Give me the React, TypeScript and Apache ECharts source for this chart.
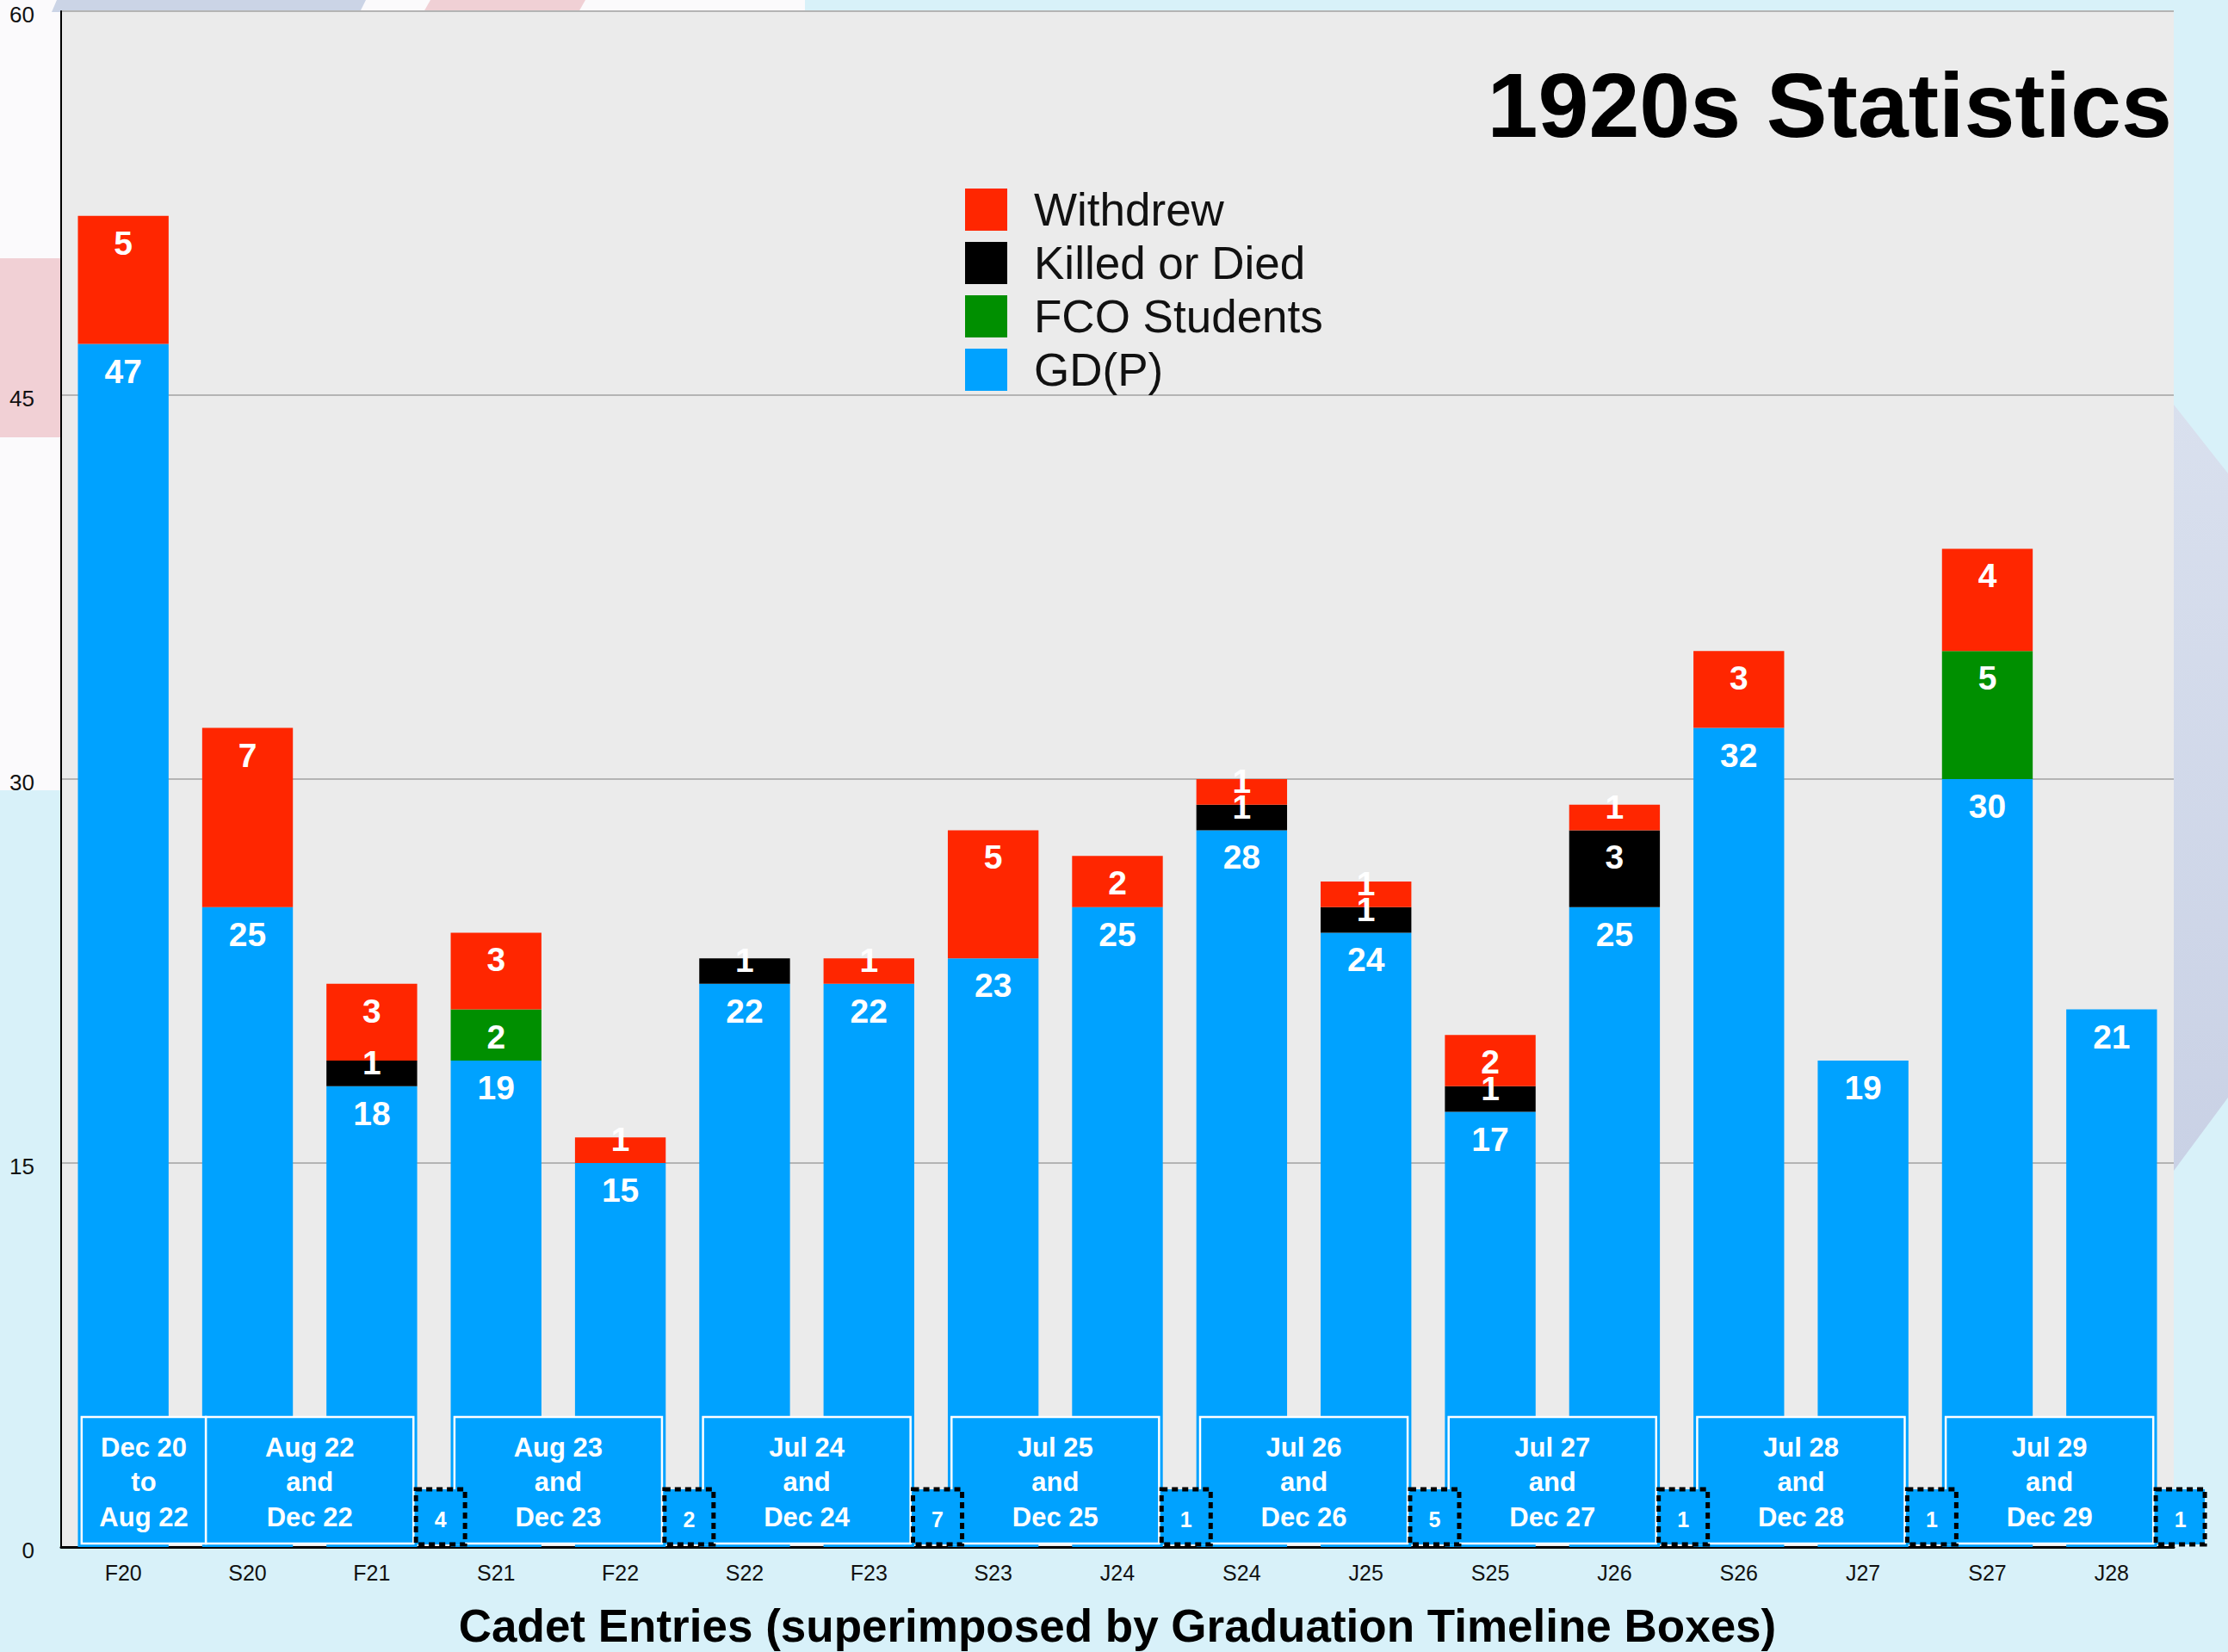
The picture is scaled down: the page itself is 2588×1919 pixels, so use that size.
import React, { useEffect, useRef } from "react";
import * as echarts from "echarts";

const FONT = '"Liberation Sans", Arial, Helvetica, sans-serif';

// ---- data ----
const categories = ["F20", "S20", "F21", "S21", "F22", "S22", "F23", "S23", "J24", "S24", "J25", "S25", "J26", "S26", "J27", "S27", "J28"];
const gdp = [47, 25, 18, 19, 15, 22, 22, 23, 25, 28, 24, 17, 25, 32, 19, 30, 21];
const fco = [0, 0, 0, 2, 0, 0, 0, 0, 0, 0, 0, 0, 0, 0, 0, 5, 0];
const killed = [0, 0, 1, 0, 0, 1, 0, 0, 0, 1, 1, 1, 3, 0, 0, 0, 0];
const withdrew = [5, 7, 3, 3, 1, 0, 1, 5, 2, 1, 1, 2, 1, 3, 0, 4, 0];

const legendOrder = ["Withdrew", "Killed or Died", "FCO Students", "GD(P)"];

// graduation timeline boxes
const timelineFrom = ["F20", "S20", "S21", "S22", "S23", "S24", "S25", "S26", "S27"];
const timelineTo = ["S20", "F21", "F22", "F23", "J24", "J25", "J26", "J27", "J28"];
const timelineEndsBeforeTo = [true, false, false, false, false, false, false, false, false];
const timelineText = [
  "Dec 20\nto\nAug 22",
  "Aug 22\nand\nDec 22",
  "Aug 23\nand\nDec 23",
  "Jul 24\nand\nDec 24",
  "Jul 25\nand\nDec 25",
  "Jul 26\nand\nDec 26",
  "Jul 27\nand\nDec 27",
  "Jul 28\nand\nDec 28",
  "Jul 29\nand\nDec 29",
];

// dotted boxes
const dottedAt = ["F21", "F22", "F23", "J24", "J25", "J26", "J27", "J28"];
const dottedCount = [4, 2, 7, 1, 5, 1, 1, 1];

const yTicks = { min: 0, max: 60, interval: 15 };

// ---- styles ----
const BLUE = "#00a2ff";
const RED = "#ff2600";
const BLACK = "#000000";
const GREEN = "#008f00";

function mkBar(name: string, arr: number[], color: string) {
  return {
    name,
    type: "bar",
    stack: "total",
    barWidth: "73%",
    itemStyle: { color },
    label: {
      show: true,
      position: "insideTop",
      distance: 12,
      color: "#fff",
      fontSize: 39,
      lineHeight: 39,
      fontWeight: "bold",
      fontFamily: FONT,
    },
    data: arr.map((v) => (v === 0 ? "-" : v === 1 ? { value: 1, label: { offset: [0, -29] } } : v)),
  };
}

export default function App() {
  const ref = useRef<HTMLDivElement>(null);
  useEffect(() => {
    if (!ref.current) return;
    const chart = echarts.init(ref.current, null, { renderer: "svg" });
    const option: any = {
      animation: false,
      backgroundColor: "#d8f1f9",
      graphic: {
        elements: [
          { type: "rect", z: -100, silent: true, shape: { x: 0, y: 0, width: 935, height: 918 }, style: { fill: "#fbfafc" } },
          { type: "polygon", z: -99, silent: true, shape: { points: [[66, 0], [425, 0], [418, 14], [60, 14]] }, style: { fill: "#cbd4e6" } },
          { type: "polygon", z: -99, silent: true, shape: { points: [[500, 0], [680, 0], [672, 14], [492, 14]] }, style: { fill: "#f0d0d5" } },
          { type: "rect", z: -99, silent: true, shape: { x: 0, y: 300, width: 72, height: 208 }, style: { fill: "#f1d0d5" } },
          {
            type: "polygon",
            z: -99,
            silent: true,
            shape: { points: [[2525, 470], [2588, 550], [2588, 1275], [2525, 1360]] },
            style: {
              fill: new echarts.graphic.LinearGradient(0, 0, 0, 1, [
                { offset: 0, color: "#d9e0ee" },
                { offset: 1, color: "#c9d1e5" },
              ]),
            },
          },
        ],
      },
      title: {
        text: "1920s Statistics",
        right: 65,
        top: 69,
        padding: 0,
        textStyle: { fontSize: 106, lineHeight: 106, fontWeight: "bold", color: "#000", fontFamily: FONT },
      },
      legend: {
        data: legendOrder,
        orient: "vertical",
        left: 1121,
        top: 217,
        padding: 0,
        itemGap: 9,
        itemWidth: 49,
        itemHeight: 49,
        icon: "rect",
        selectedMode: false,
        textStyle: { fontSize: 53, lineHeight: 49, color: "#111", fontFamily: FONT, padding: [0, 0, 0, 26] },
      },
      grid: {
        left: 71,
        right: 63,
        top: 13,
        bottom: 122,
        show: true,
        backgroundColor: "#ebebeb",
        borderWidth: 0,
        containLabel: false,
        outerBoundsMode: "none",
      },
      xAxis: {
        type: "category",
        data: categories,
        axisLine: { lineStyle: { color: "#000", width: 3 } },
        axisTick: { show: false },
        axisLabel: { fontSize: 25, lineHeight: 25, color: "#111", margin: 17, fontFamily: FONT },
        splitLine: { show: false },
        name: "Cadet Entries (superimposed by Graduation Timeline Boxes)",
        nameLocation: "middle",
        nameGap: 65,
        nameTextStyle: { fontSize: 53, lineHeight: 53, fontWeight: "bold", color: "#000", fontFamily: FONT },
      },
      yAxis: {
        type: "value",
        min: yTicks.min,
        max: yTicks.max,
        interval: yTicks.interval,
        axisLine: { show: true, lineStyle: { color: "#000", width: 2 } },
        axisTick: { show: false },
        axisLabel: { fontSize: 26, color: "#111", margin: 31, fontFamily: FONT, verticalAlign: "top", lineHeight: 8 },
        splitLine: { show: true, lineStyle: { color: "#b4b4b4", width: 2 } },
      },
      series: [
        mkBar("GD(P)", gdp, BLUE),
        mkBar("FCO Students", fco, GREEN),
        mkBar("Killed or Died", killed, BLACK),
        mkBar("Withdrew", withdrew, RED),
        {
          type: "custom",
          name: "timeline",
          coordinateSystem: "cartesian2d",
          clip: false,
          silent: true,
          z: 5,
          encode: { x: [0, 1], y: 3 },
          data: timelineFrom.map((f, i) => [categories.indexOf(f), categories.indexOf(timelineTo[i]), i, 0]),
          renderItem: (params: any, api: any) => {
            const a = api.value(0);
            const b = api.value(1);
            const i = api.value(2);
            const bw = api.size([1, 0])[0];
            const p0 = api.coord([a, 0]);
            const p1 = api.coord([b, 0]);
            const x0 = p0[0] - 0.335 * bw;
            const x1 = timelineEndsBeforeTo[i] ? p1[0] - 0.335 * bw : p1[0] + 0.335 * bw;
            const yb = p0[1] - 4;
            const yt = p0[1] - 151;
            return {
              type: "group",
              children: [
                {
                  type: "rect",
                  shape: { x: x0, y: yt, width: x1 - x0, height: yb - yt },
                  style: { fill: BLUE, stroke: "#ffffff", lineWidth: 2.5 },
                },
                {
                  type: "text",
                  style: {
                    text: timelineText[i],
                    x: (x0 + x1) / 2,
                    y: (yt + yb) / 2 + 2,
                    fill: "#ffffff",
                    fontSize: 31,
                    lineHeight: 40.5,
                    fontWeight: "bold",
                    fontFamily: FONT,
                    align: "center",
                    verticalAlign: "middle",
                  },
                },
              ],
            };
          },
        },
        {
          type: "custom",
          name: "remaining",
          coordinateSystem: "cartesian2d",
          clip: false,
          silent: true,
          z: 6,
          encode: { x: 0, y: 1 },
          data: dottedAt.map((c, i) => [categories.indexOf(c), 0, dottedCount[i]]),
          renderItem: (params: any, api: any) => {
            const bw = api.size([1, 0])[0];
            const p = api.coord([api.value(0), 0]);
            const x0 = p[0] + 0.355 * bw;
            const w = 0.395 * bw;
            const yb = p[1] - 3;
            const yt = p[1] - 67;
            return {
              type: "group",
              children: [
                {
                  type: "rect",
                  shape: { x: x0, y: yt, width: w, height: yb - yt },
                  style: { fill: BLUE, stroke: "#000", lineWidth: 5, lineDash: [7, 5] },
                },
                {
                  type: "text",
                  style: {
                    text: String(api.value(2)),
                    x: x0 + w / 2,
                    y: (yt + yb) / 2 + 3,
                    fill: "#ffffff",
                    fontSize: 25,
                    fontWeight: "bold",
                    fontFamily: FONT,
                    align: "center",
                    verticalAlign: "middle",
                  },
                },
              ],
            };
          },
        },
      ],
    };
    chart.setOption(option);
    return () => chart.dispose();
  }, []);
  return <div ref={ref} style={{ position: "absolute", left: 0, top: 0, width: 2588, height: 1919 }} />;
}
